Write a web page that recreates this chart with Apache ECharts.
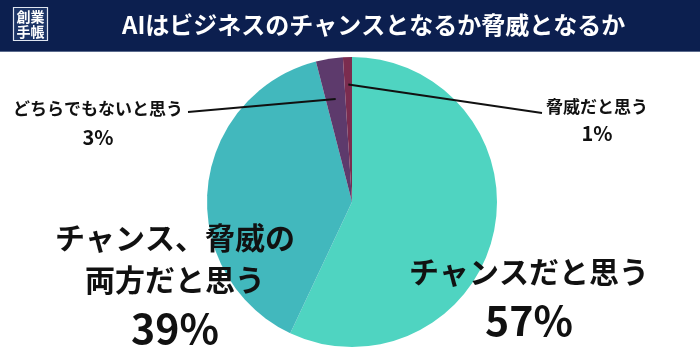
<!DOCTYPE html>
<html>
<head>
<meta charset="utf-8">
<script src="https://cdn.jsdelivr.net/npm/echarts@6/dist/echarts.min.js"></script>
<style>
html,body{margin:0;padding:0;background:#fff;}
#c{width:700px;height:356px;}
</style>
</head>
<body>
<div id="c"></div>
<script>
var titleText = 'AIはビジネスのチャンスとなるか脅威となるか';
var categories = ['チャンスだと思う', 'チャンス、脅威の\n両方だと思う', 'どちらでもないと思う', '脅威だと思う'];
var values = [57, 39, 3, 1];
var colors = ['#4fd4c1', '#42b8bd', '#5d3a6c', '#7b2c4f'];

var FONT = '"Noto Sans CJK JP", "Noto Sans", sans-serif';
var CX = 352, CY = 202, R = 145;

var total = values.reduce(function(a, b){ return a + b; }, 0);
function midAngle(i){
  var s = 0;
  for (var k = 0; k < i; k++) s += values[k];
  return (s + values[i] / 2) / total * 2 * Math.PI;
}
function pointAt(i, frac){
  var a = midAngle(i);
  return [CX + R * frac * Math.sin(a), CY - R * frac * Math.cos(a)];
}

var labelPos = [
  {x: 529, y: 296},
  {x: 175, y: 286},
  {x: 98, y: 123},
  {x: 597, y: 120}
];

var chart = echarts.init(document.getElementById('c'), null, {renderer: 'canvas'});

var data = categories.map(function(n, i){
  var big = i < 2;
  return {
    name: n,
    value: values[i],
    itemStyle: {color: colors[i]},
    label: big ? {
      rich: {
        n: {fontSize: 30, fontWeight: 'bold', color: '#111', fontFamily: FONT, lineHeight: i === 0 ? 48 : 42, align: 'center'},
        v: {fontSize: 41, fontWeight: 'bold', color: '#111', fontFamily: FONT, lineHeight: i === 0 ? 48 : 54, align: 'center'}
      }
    } : {
      rich: {
        n: {fontSize: 17, fontWeight: 'bold', color: '#111', fontFamily: FONT, lineHeight: i === 2 ? 28 : 26, align: 'center'},
        v: {fontSize: 20, fontWeight: 'bold', color: '#111', fontFamily: FONT, lineHeight: i === 2 ? 28 : 26, align: 'center'}
      }
    }
  };
});

var lead3 = pointAt(2, 0.72);
var lead1 = pointAt(3, 0.81);

chart.setOption({
  animation: false,
  backgroundColor: '#ffffff',
  title: {
    text: titleText,
    left: 117,
    top: 8,
    textStyle: {color: '#ffffff', fontSize: 24, fontWeight: 'bold', fontFamily: FONT}
  },
  graphic: [
    {type: 'rect', z: -1, shape: {x: 0, y: 0, width: 700, height: 52}, style: {fill: '#0c1f4f'}},
    {type: 'rect', z: -1, shape: {x: 0, y: 51, width: 700, height: 1}, style: {fill: '#5a6a8c'}},
    {type: 'rect', z: 1, shape: {x: 13.5, y: 7.5, width: 34, height: 33}, style: {fill: '#1c3466', stroke: '#dfe5f0', lineWidth: 1.2}},
    {type: 'text', z: 2, x: 30.5, y: 24, style: {text: '創業\n手帳', fill: '#ffffff', font: 'bold 14px ' + FONT, lineHeight: 15, align: 'center', verticalAlign: 'middle'}},
    {type: 'polyline', z: 100, shape: {points: [lead3, [188, 112]]}, style: {stroke: '#111', lineWidth: 2, fill: null}},
    {type: 'polyline', z: 100, shape: {points: [lead1, [542, 113]]}, style: {stroke: '#111', lineWidth: 2, fill: null}}
  ],
  series: [{
    type: 'pie',
    center: [CX, CY],
    radius: [0, R],
    startAngle: 90,
    clockwise: true,
    avoidLabelOverlap: false,
    silent: true,
    label: {
      show: true,
      position: 'outside',
      formatter: function(p){
        var lines = p.name.split('\n').map(function(s){ return '{n|' + s + '}'; });
        lines.push('{v|' + p.value + '%}');
        return lines.join('\n');
      }
    },
    labelLine: {show: false},
    labelLayout: function(params){
      var i = params.dataIndex;
      return {x: labelPos[i].x, y: labelPos[i].y, align: 'center', verticalAlign: 'middle'};
    },
    data: data
  }]
});
</script>
</body>
</html>
